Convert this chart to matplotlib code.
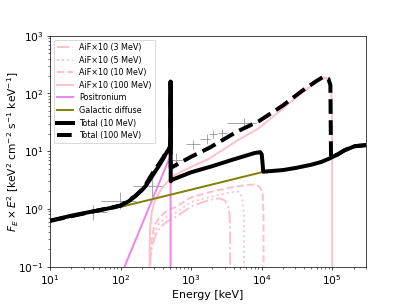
import numpy as np
import matplotlib
matplotlib.use("Agg")
import matplotlib.pyplot as plt

# energies in keV, values F_E x E^2
aif3_e = [256, 260, 266, 285, 320, 380, 450, 600, 1000, 1800, 2500, 3000, 3300, 3500, 3570, 3575]
aif3_f = [0.01, 0.08, 0.15, 0.25, 0.37, 0.5, 0.6, 0.72, 1.1, 1.42, 1.52, 1.4, 1.15, 0.8, 0.4, 0.01]

aif5_e = [256, 259, 264, 280, 310, 360, 450, 600, 1000, 2000, 3500, 4500, 5000, 5300, 5600, 5650]
aif5_f = [0.01, 0.08, 0.15, 0.28, 0.42, 0.58, 0.72, 0.85, 1.32, 1.65, 1.92, 2.0, 1.85, 1.45, 0.8, 0.01]

aif10_e = [256, 258, 262, 275, 300, 350, 450, 600, 1000, 2000, 4000, 6500, 8200, 9500, 10300, 10600, 10650]
aif10_f = [0.01, 0.08, 0.15, 0.3, 0.5, 0.7, 0.92, 1.07, 1.58, 2.0, 2.4, 2.6, 2.65, 2.35, 1.8, 0.8, 0.01]

aif100_e = [256, 258, 262, 275, 300, 350, 420, 570, 1000, 1830, 4400, 9100, 20000, 37000, 60000, 75700, 88000, 95000, 99500, 100000]
aif100_f = [0.01, 0.2, 0.45, 0.85, 1.3, 1.9, 2.6, 3.8, 5.3, 7.5, 15, 25, 55, 102, 158, 188, 180, 150, 60, 0.01]

ps_e = [100, 200, 300, 400, 511, 511.5]
ps_f = [0.068, 0.53, 1.76, 4.1, 8.5, 0.001]

gal_e = [100, 1000, 10500]
gal_f = [1.08, 2.15, 4.37]

tot10_e = [10, 15, 20, 30, 40, 60, 80, 100, 130, 160, 200, 230, 260, 300, 350, 400, 450, 500, 509,
           511, 513, 540, 1000, 2000, 4000, 8000, 9500, 10000, 10300, 10500, 20000, 30000, 50000,
           70000, 90000, 120000, 150000, 210000, 300000]
tot10_f = [0.62, 0.70, 0.76, 0.84, 0.90, 0.99, 1.06, 1.14, 1.35, 1.65, 2.1, 2.55, 3.2, 4.2, 5.6, 7.3, 9.6, 11.5, 12,
           160, 3.0, 3.2, 4.3, 5.5, 7.2, 9.3, 9.6, 8.8, 6.0, 4.4, 4.7, 5.1, 5.8,
           6.5, 7.4, 8.8, 10.4, 12.2, 12.7]

tot100_e = [10, 100, 160, 200, 230, 260, 300, 350, 400, 450, 500, 509,
            511, 513, 540, 1000, 1830, 4400, 9100, 20000, 37000, 60000, 75700, 88000, 94000,
            96000, 120000, 150000, 210000, 300000]
tot100_f = [0.62, 1.14, 1.65, 2.15, 2.7, 3.5, 4.6, 6.0, 7.7, 9.9, 11.7, 12.2,
            160, 5.2, 5.3, 8.0, 11.5, 21.6, 33, 62, 110, 165, 196, 180, 140,
            7.7, 8.8, 10.4, 12.2, 12.7]

# grey data points: centre, band edges, value, value range
pt_e = [40.8, 97, 283, 610, 1070, 1650, 2030, 2700, 5580]
pt_elo = [26.5, 53.5, 148.5, 493, 847, 1340, 1810, 2440, 3270]
pt_ehi = [63.8, 166, 390, 777, 1340, 1850, 2360, 3270, 8200]
pt_f = [0.87, 1.37, 2.46, 7.0, 13.1, 16.0, 19.8, 20.3, 31]
pt_flo = [0.63, 1.0, 1.6, 5.3, 11.1, 13.1, 16.8, 17.2, 26.5]
pt_fhi = [1.15, 1.96, 3.57, 9.2, 15.5, 19.7, 23.0, 23.8, 37]

fig = plt.figure(figsize=(6.4, 4.8), dpi=63.6)
ax = fig.add_axes([0.123, 0.126, 0.776, 0.756])

pt_e = np.array(pt_e)
pt_f = np.array(pt_f)
ax.errorbar(pt_e, pt_f,
            xerr=[pt_e - np.array(pt_elo), np.array(pt_ehi) - pt_e],
            yerr=[pt_f - np.array(pt_flo), np.array(pt_fhi) - pt_f],
            fmt='none', ecolor='grey', elinewidth=1.1, alpha=0.7, zorder=1)

ax.plot(aif3_e, aif3_f, color='pink', ls='-.', lw=2.2, label='AiF×10 (3 MeV)')
ax.plot(aif5_e, aif5_f, color='pink', ls=':', lw=2.2, label='AiF×10 (5 MeV)')
ax.plot(aif10_e, aif10_f, color='pink', ls='--', lw=2.2, label='AiF×10 (10 MeV)')
ax.plot(aif100_e, aif100_f, color='pink', ls='-', lw=2.2, label='AiF×10 (100 MeV)')
ax.plot(ps_e, ps_f, color='violet', lw=2.2, label='Positronium')
ax.plot(gal_e, gal_f, color='olive', lw=2.2, label='Galactic diffuse')
ax.plot(tot10_e, tot10_f, color='black', lw=4.5, label='Total (10 MeV)')
ax.plot(tot100_e, tot100_f, color='black', lw=4.5, ls='--', label='Total (100 MeV)')

ax.set_xscale('log')
ax.set_yscale('log')
ax.set_xlim(10, 3e5)
ax.set_ylim(0.1, 1000)
ax.tick_params(labelsize=12)
ax.set_xlabel('Energy [keV]', fontsize=12.5)
ax.set_ylabel(r'$F_E \times E^2$ [keV$^2$ cm$^{-2}$ s$^{-1}$ keV$^{-1}$]', fontsize=12)
ax.yaxis.set_label_coords(-0.092, 0.5)
ax.legend(loc='upper left', fontsize=9, labelspacing=0.45)

fig.savefig('out.png')
